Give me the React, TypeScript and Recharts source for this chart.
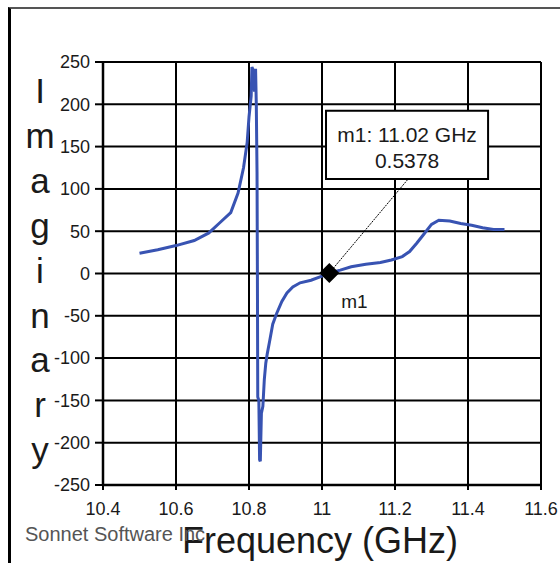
import {
  ComposedChart,
  Line,
  XAxis,
  YAxis,
  CartesianGrid,
  ReferenceDot,
  ReferenceLine,
  ReferenceArea,
} from "recharts";

// Sonnet-style imaginary part plot
const freqGHz = [
  10.5, 10.55, 10.6, 10.65, 10.69, 10.72, 10.75, 10.77, 10.785, 10.795, 10.8,
  10.806, 10.808, 10.812, 10.815, 10.818, 10.82, 10.822, 10.823, 10.824,
  10.827, 10.829, 10.831, 10.834, 10.838, 10.842, 10.846, 10.85, 10.857,
  10.865, 10.876, 10.89, 10.904, 10.92, 10.94, 10.97, 11.0, 11.02, 11.05,
  11.08, 11.12, 11.16, 11.19, 11.22, 11.24, 11.26, 11.28, 11.3, 11.32, 11.35,
  11.38, 11.41, 11.44, 11.47, 11.5,
];
const imagValues = [
  24, 28, 33, 39, 48, 60, 72, 95, 125, 155, 185, 210, 244, 240, 215, 242,
  200, 120, 0, -146, -150, -220, -222, -165, -157, -125, -106, -95, -79, -60,
  -47, -33, -23, -16, -11, -8, -3, 0.5378, 4, 8, 11, 13, 16, 20, 26, 36, 47,
  58, 63, 62, 59, 57, 54, 52, 52,
];
const xTicks = [10.4, 10.6, 10.8, 11, 11.2, 11.4, 11.6];
const yTicks = [-250, -200, -150, -100, -50, 0, 50, 100, 150, 200, 250];
const yLabelLetters = ["I", "m", "a", "g", "i", "n", "a", "r", "y"];

const marker = { name: "m1", freq: 11.02, value: 0.5378 };

const chartData = freqGHz.map((f, i) => ({ freq: f, imag: imagValues[i] }));

const TEXT = "#1a1a1a";
const FONT = "Arial, 'Liberation Sans', sans-serif";

function Diamond(props: any) {
  const { cx, cy } = props;
  const r = 10;
  return (
    <path
      d={`M${cx},${cy - r} L${cx + r},${cy} L${cx},${cy + r} L${cx - r},${cy} Z`}
      fill="#000"
    />
  );
}

function BoxLabel(props: any) {
  const vb = props.viewBox || {};
  const cx = vb.x + vb.width / 2;
  return (
    <g fontFamily={FONT} fill={TEXT} fontSize={21} textAnchor="middle">
      <text x={cx} y={vb.y + 31}>
        {`${marker.name}: ${marker.freq} GHz`}
      </text>
      <text x={cx} y={vb.y + 57}>
        {marker.value}
      </text>
    </g>
  );
}

export default function App() {
  return (
    <div
      style={{
        position: "fixed",
        left: 0,
        top: 0,
        width: 560,
        height: 563,
        overflow: "hidden",
        background: "#fff",
      }}
    >
      {/* outer frame */}
      <div
        style={{
          position: "absolute",
          left: 8,
          top: 7,
          width: 600,
          height: 600,
          borderLeft: "3px solid #000",
          borderTop: "2px solid #555",
        }}
      />
      <ComposedChart
        width={560}
        height={563}
        data={chartData}
        margin={{ top: 62, right: 19, left: 0, bottom: 48 }}
        style={{ position: "absolute", left: 0, top: 0 }}
      >
        <CartesianGrid stroke="#000" strokeWidth={2} />
        <XAxis
          dataKey="freq"
          type="number"
          domain={[10.4, 11.6]}
          ticks={xTicks}
          tickFormatter={(v: number) => String(Math.round(v * 10) / 10)}
          height={30}
          tickSize={5}
          tickMargin={12}
          tick={{ fontSize: 18, fill: TEXT, fontFamily: FONT }}
          tickLine={{ stroke: "#000", strokeWidth: 2 }}
          axisLine={{ stroke: "#000", strokeWidth: 2.5 }}
        />
        <YAxis
          type="number"
          domain={[-250, 250]}
          ticks={yTicks}
          width={103}
          tickSize={8}
          tickMargin={5}
          tick={{ fontSize: 18, fill: TEXT, fontFamily: FONT }}
          tickLine={{ stroke: "#000", strokeWidth: 2 }}
          axisLine={{ stroke: "#000", strokeWidth: 2.5 }}
        />
        <ReferenceLine
          segment={[
            { x: marker.freq, y: marker.value },
            { x: 11.236, y: 111.7 },
          ]}
          stroke="#000"
          strokeWidth={1}
          strokeDasharray="2 1"
        />
        <ReferenceArea
          x1={11.011}
          x2={11.455}
          y1={111.7}
          y2={192.4}
          fill="#fff"
          fillOpacity={1}
          stroke="#000"
          strokeWidth={2}
          label={<BoxLabel />}
        />
        <Line
          type="linear"
          dataKey="imag"
          stroke="#3853b2"
          strokeWidth={3}
          dot={false}
          isAnimationActive={false}
        />
        <ReferenceDot
          x={marker.freq}
          y={marker.value}
          shape={<Diamond />}
          label={{
            value: marker.name,
            position: "insideTopLeft",
            dx: 17,
            dy: 26,
            fontSize: 19,
            fill: TEXT,
            fontFamily: FONT,
          }}
        />
      </ComposedChart>
      <svg
        width={560}
        height={563}
        style={{ position: "absolute", left: 0, top: 0, pointerEvents: "none" }}
      >
        <g fontFamily={FONT} fill={TEXT} fontSize={35} textAnchor="middle">
          {yLabelLetters.map((ch, i) => (
            <text key={i} x={40} y={103 + i * 44.9}>
              {ch}
            </text>
          ))}
          <text x={320} y={553} fontSize={36}>
            Frequency (GHz)
          </text>
        </g>
        <text x={25} y={541} fontFamily={FONT} fontSize={20} fill="#555">
          Sonnet Software Inc
        </text>
      </svg>
    </div>
  );
}
